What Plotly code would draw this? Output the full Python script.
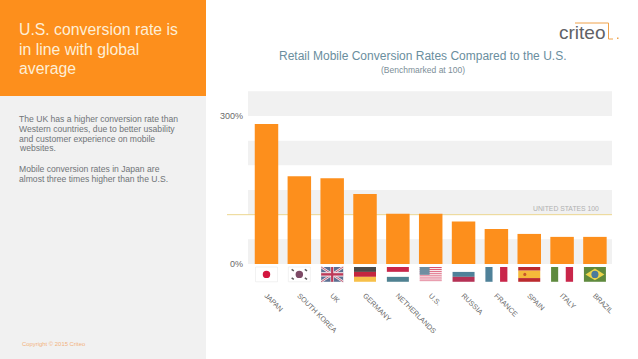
import plotly.graph_objects as go

countries = ["JAPAN", "SOUTH KOREA", "UK", "GERMANY", "NETHERLANDS", "U.S.", "RUSSIA", "FRANCE", "SPAIN", "ITALY", "BRAZIL"]
conversion_index = [284, 178, 174, 142, 102, 102, 86, 71, 61, 55, 55]
benchmark = 100
band_starts = [0, 100, 200, 300]
band_height = 50
y_ticks = [0, 300]
y_tick_labels = ["0%", "300%"]

headline = ["U.S. conversion rate is", "in line with global", "average"]
body = ["The UK has a higher conversion rate than", "Western countries, due to better usability",
        "and customer experience on mobile", "websites.", "",
        "Mobile conversion rates in Japan are", "almost three times higher than the U.S."]

W, H = 638, 359
ML, MR, MT, MB = 248, 26, 90, 75
ORANGE = "#fd8f1c"
FONT = "Liberation Sans"
RED, BLUE, GREEN, DARK, YEL = "#c9264a", "#4f8199", "#5f8a3e", "#4a4a4a", "#f5b93a"
shapes, annotations = [], []

def px(v): return (v - ML) / (W - ML - MR)
def py(v): return (H - MB - v) / (H - MT - MB)

def paper_rect(x0, y0, x1, y1, color):
    shapes.append(dict(type="rect", xref="paper", yref="paper", x0=px(x0), x1=px(x1), y0=py(y0), y1=py(y1),
                       fillcolor=color, line_width=0, layer="below"))

def label(x, y, text, size, color, anchor="left"):
    annotations.append(dict(xref="paper", yref="paper", x=px(x), y=py(y), text=text, showarrow=False,
                            xanchor=anchor, yanchor="middle", font=dict(family=FONT, size=size, color=color),
                            borderpad=0, borderwidth=0))

paper_rect(0, 0, 206, H, "#f1f1f1")
paper_rect(0, 0, 206, 96, ORANGE)
for s, y in zip(headline, [29, 49, 68]):
    label(19, y, s, 15.8, "#fdeed6")
for s, y in zip(body, [119, 129, 139, 148, 158, 169, 179]):
    if s:
        label(19, y, s, 8.6, "#707478")
label(22, 344, "Copyright © 2015 Criteo", 5.9, "#f2b27c")
label(422.5, 56, "Retail Mobile Conversion Rates Compared to the U.S.", 12.0, "#6a8e9e", "center")
label(422.5, 70, "(Benchmarked at 100)", 8.5, "#7c8e98", "center")
label(581.5, 33, "criteo", 19, "#5f6266", "center")
label(599, 208, "UNITED STATES 100", 6.8, "#b0b0b0", "right")

# logo bracket
for x0, y0, x1, y1 in [(575, 23, 608.5, 23), (608.5, 23, 608.5, 39), (608.5, 39, 613, 39)]:
    shapes.append(dict(type="line", xref="paper", yref="paper", x0=px(x0), x1=px(x1), y0=py(y0), y1=py(y1),
                       line=dict(color="#f0a24a", width=1)))
paper_rect(617, 37.5, 618.5, 39, "#f0a24a")

# alternating bands and benchmark line
for b in band_starts:
    shapes.append(dict(type="rect", xref="x domain", yref="y", x0=0, x1=1, y0=b, y1=b + band_height,
                       fillcolor="#f1f1f1", line_width=0, layer="below"))
shapes.append(dict(type="line", xref="paper", yref="y", x0=px(227), x1=px(612), y0=benchmark, y1=benchmark,
                   line=dict(color="#ecd68f", width=1), layer="below"))

# flags, in coordinates local to each flag: u across, v down
FW, Y_TOP, Y_BOT = 0.335, -6, -36
def fx(i, u): return i - FW + 2 * FW * u
def fy(v): return Y_TOP + (Y_BOT - Y_TOP) * v

def rect(i, u0, v0, u1, v1, color, line=None):
    shapes.append(dict(type="rect", xref="x", yref="y", x0=fx(i, u0), x1=fx(i, u1), y0=fy(v0), y1=fy(v1),
                       fillcolor=color, line=dict(color=line or color, width=0.5 if line else 0)))

def circ(i, cu, cv, ru, rv, color):
    shapes.append(dict(type="circle", xref="x", yref="y", x0=fx(i, cu - ru), x1=fx(i, cu + ru),
                       y0=fy(cv - rv), y1=fy(cv + rv), fillcolor=color, line_width=0))

def seg(i, u0, v0, u1, v1, color, w):
    shapes.append(dict(type="line", xref="x", yref="y", x0=fx(i, u0), x1=fx(i, u1), y0=fy(v0), y1=fy(v1),
                       line=dict(color=color, width=w)))

def stripes_h(i, colors):
    n = len(colors)
    for k, c in enumerate(colors):
        rect(i, 0, k / n, 1, (k + 1) / n, c)

def stripes_v(i, colors):
    n = len(colors)
    for k, c in enumerate(colors):
        rect(i, k / n, 0, (k + 1) / n, 1, c)

# Japan
rect(0, 0, 0, 1, 1, "#ffffff", "#e4e4e4")
circ(0, .5, .5, .17, .25, "#d3163f")
# South Korea
rect(1, 0, 0, 1, 1, "#ffffff", "#e4e4e4")
circ(1, .5, .5, .17, .25, "#7d4a66")
for u, v in [(.2, .22), (.8, .22), (.2, .78), (.8, .78)]:
    seg(1, u - .05, v - .05, u + .05, v + .05, "#5a5a5a", 1.5)
# UK
rect(2, 0, 0, 1, 1, "#5c6f92")
seg(2, 0, 0, 1, 1, "#f2e6ea", 2.5)
seg(2, 0, 1, 1, 0, "#f2e6ea", 2.5)
seg(2, 0, 0, 1, 1, "#b5405f", 0.8)
seg(2, 0, 1, 1, 0, "#b5405f", 0.8)
rect(2, 0, .35, 1, .65, "#f2e6ea")
rect(2, .42, 0, .58, 1, "#f2e6ea")
rect(2, 0, .42, 1, .58, "#bd3a58")
rect(2, .45, 0, .55, 1, "#bd3a58")
# Germany
stripes_h(3, [DARK, "#c4263f", "#f7c04a"])
# Netherlands
stripes_h(4, ["#c9264a", "#ffffff", "#4f8191"])
# U.S.
for k in range(7):
    rect(5, 0, k / 7, 1, (k + .5) / 7, "#d9506e")
    rect(5, 0, (k + .5) / 7, 1, (k + 1) / 7, "#f7e9ec")
rect(5, 0, 0, .45, .53, "#6e8ea1")
# Russia
stripes_h(6, ["#ffffff", BLUE, "#b53155"])
# France
stripes_v(7, [BLUE, "#ffffff", RED])
# Spain
rect(8, 0, 0, 1, .25, "#bb2a2e")
rect(8, 0, .25, 1, .75, YEL)
rect(8, 0, .75, 1, 1, "#bb2a2e")
circ(8, .3, .5, .07, .11, "#c8572c")
# Italy
stripes_v(9, [GREEN, "#ffffff", RED])
# Brazil
rect(10, 0, 0, 1, 1, "#5f8a3e")
shapes.append(dict(type="path", xref="x", yref="y", fillcolor="#ecd44c", line_width=0,
                   path=f"M {fx(10, .07)} {fy(.5)} L {fx(10, .5)} {fy(.1)} L {fx(10, .93)} {fy(.5)} L {fx(10, .5)} {fy(.9)} Z"))
circ(10, .5, .5, .16, .25, "#4a7a9c")

fig = go.Figure(go.Bar(x=countries, y=conversion_index, marker=dict(color=ORANGE, line_width=0), width=0.715))
fig.update_layout(
    width=W, height=H, margin=dict(l=ML, r=MR, t=MT, b=MB, pad=0, autoexpand=False),
    paper_bgcolor="white", plot_bgcolor="rgba(0,0,0,0)", showlegend=False,
    shapes=shapes, annotations=annotations,
    font=dict(family=FONT),
)
fig.update_xaxes(type="category", range=[-0.563, 10.52], showgrid=False, zeroline=False, showline=False,
                 tickangle=45, ticklen=0, tickfont=dict(family=FONT, size=7.2, color="#6a6a6a"),
                 ticklabelstandoff=5)
fig.update_yaxes(range=[-40.5, 352.7], showgrid=False, zeroline=False, showline=False, tickmode="array",
                 tickvals=y_ticks, ticktext=y_tick_labels, ticklen=0, ticklabelstandoff=4,
                 tickfont=dict(family=FONT, size=9, color="#6a6a6a"))
fig.write_html("out.html", config=dict(displayModeBar=False), post_script="document.body.style.margin='0';")
